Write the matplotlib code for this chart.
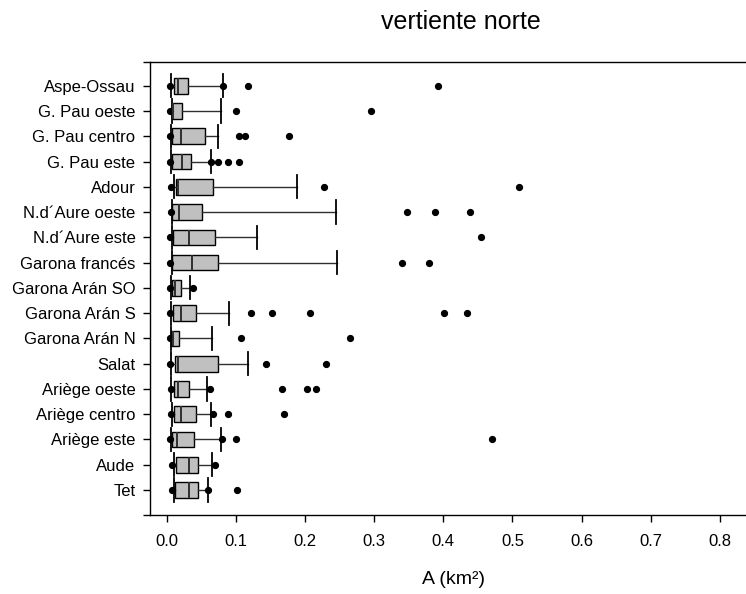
import numpy as np
import matplotlib
matplotlib.use('Agg')
import matplotlib.pyplot as plt

plt.rcParams['font.family'] = ['Liberation Sans', 'DejaVu Sans']

# basins, top to bottom
names = ['Aspe-Ossau', 'G. Pau oeste', 'G. Pau centro', 'G. Pau este', 'Adour',
         'N.d\u00b4Aure oeste', 'N.d\u00b4Aure este', 'Garona franc\u00e9s',
         'Garona Ar\u00e1n SO', 'Garona Ar\u00e1n S', 'Garona Ar\u00e1n N', 'Salat',
         'Ari\u00e8ge oeste', 'Ari\u00e8ge centro', 'Ari\u00e8ge este', 'Aude', 'Tet']

# glacier area (km2): 10th pct, quartiles, median, 90th pct
p10 = [0.0067, 0.0077, 0.0062, 0.0062, 0.0101, 0.0077, 0.0072, 0.0072, 0.0062,
       0.0062, 0.0062, 0.0067, 0.0067, 0.0081, 0.0058, 0.0101, 0.0101]
q1 = [0.0110, 0.0081, 0.0077, 0.0077, 0.0139, 0.0081, 0.0087, 0.0077, 0.0072,
      0.0087, 0.0067, 0.0124, 0.0101, 0.0106, 0.0077, 0.0139, 0.0116]
med = [0.0159, 0.0091, 0.0207, 0.0217, 0.0159, 0.0174, 0.0327, 0.0370, 0.0116,
       0.0207, 0.0091, 0.0163, 0.0159, 0.0202, 0.0153, 0.0318, 0.0322]
q3 = [0.0304, 0.0217, 0.0558, 0.0356, 0.0665, 0.0515, 0.0703, 0.0746, 0.0211,
      0.0419, 0.0174, 0.0746, 0.0327, 0.0428, 0.0395, 0.0453, 0.0448]
p90 = [0.0810, 0.0785, 0.0737, 0.0636, 0.1888, 0.2448, 0.1310, 0.2467, 0.0341,
       0.0905, 0.0651, 0.1180, 0.0578, 0.0645, 0.0781, 0.0651, 0.0597]

# points outside the whiskers (min, 95th pct and outliers)
dots = [
    [0.0048, 0.0818, 0.117, 0.392],
    [0.0048, 0.1006, 0.295],
    [0.0043, 0.1045, 0.1137, 0.1773],
    [0.0048, 0.0636, 0.0746, 0.0891, 0.1041],
    [0.0058, 0.2274, 0.509],
    [0.0058, 0.347, 0.388, 0.439],
    [0.0052, 0.454],
    [0.0052, 0.340, 0.379],
    [0.0052, 0.0385],
    [0.0052, 0.122, 0.153, 0.207, 0.4005, 0.434],
    [0.0052, 0.107, 0.265],
    [0.0052, 0.144, 0.2299],
    [0.0058, 0.063, 0.1671, 0.2024, 0.2154],
    [0.0062, 0.0669, 0.0891, 0.170],
    [0.0048, 0.080, 0.1002, 0.470],
    [0.0081, 0.0703],
    [0.0072, 0.0602, 0.1012],
]

xticks = [0.0, 0.1, 0.2, 0.3, 0.4, 0.5, 0.6, 0.7, 0.8]

stats = []
for i in range(len(names)):
    stats.append(dict(whislo=p10[i], q1=q1[i], med=med[i], q3=q3[i],
                      whishi=p90[i], fliers=np.array(dots[i]), label=names[i]))

fig = plt.figure(figsize=(7.46, 5.94), dpi=100)
ax = fig.add_axes([150/746, 1 - 514.5/594, 596/746, 453/594])

pos = np.arange(1, len(names) + 1)
ax.bxp(stats, positions=pos, widths=0.62, capwidths=0.92,
       orientation='horizontal', patch_artist=True,
       boxprops=dict(facecolor='#c0c0c0', edgecolor='black', linewidth=1.0),
       medianprops=dict(color='#303030', linewidth=1.4),
       whiskerprops=dict(color='#303030', linewidth=1.0),
       capprops=dict(color='black', linewidth=1.3),
       flierprops=dict(marker='o', markerfacecolor='black', markeredgecolor='black',
                       markersize=4.2, linestyle='none'))

ylo, yhi = 17.97, 0.04
ax.set_ylim(ylo, yhi)
ax.set_xlim(-0.0241, 0.8378)

ax.set_yticks([yhi] + list(pos) + [ylo])
ax.set_yticklabels([''] + names + [''], fontsize=12)
ax.set_xticks(xticks)
ax.set_xticklabels(['%.1f' % v for v in xticks], fontsize=12)
ax.tick_params(axis='y', length=5, width=1.0, pad=5.5)
ax.tick_params(axis='x', length=5, width=1.0, pad=9)

ax.spines['right'].set_visible(False)
for s in ['left', 'top', 'bottom']:
    ax.spines[s].set_linewidth(1.0)

ax.set_xlabel('A (km\u00b2)', fontsize=14, labelpad=14)
ax.xaxis.set_label_coords((453 - 150) / 596, -0.125)

fig.text(461/746, 1 - 22/594, 'vertiente norte', fontsize=18,
         ha='center', va='center')

fig.savefig('out.png', dpi=100)
